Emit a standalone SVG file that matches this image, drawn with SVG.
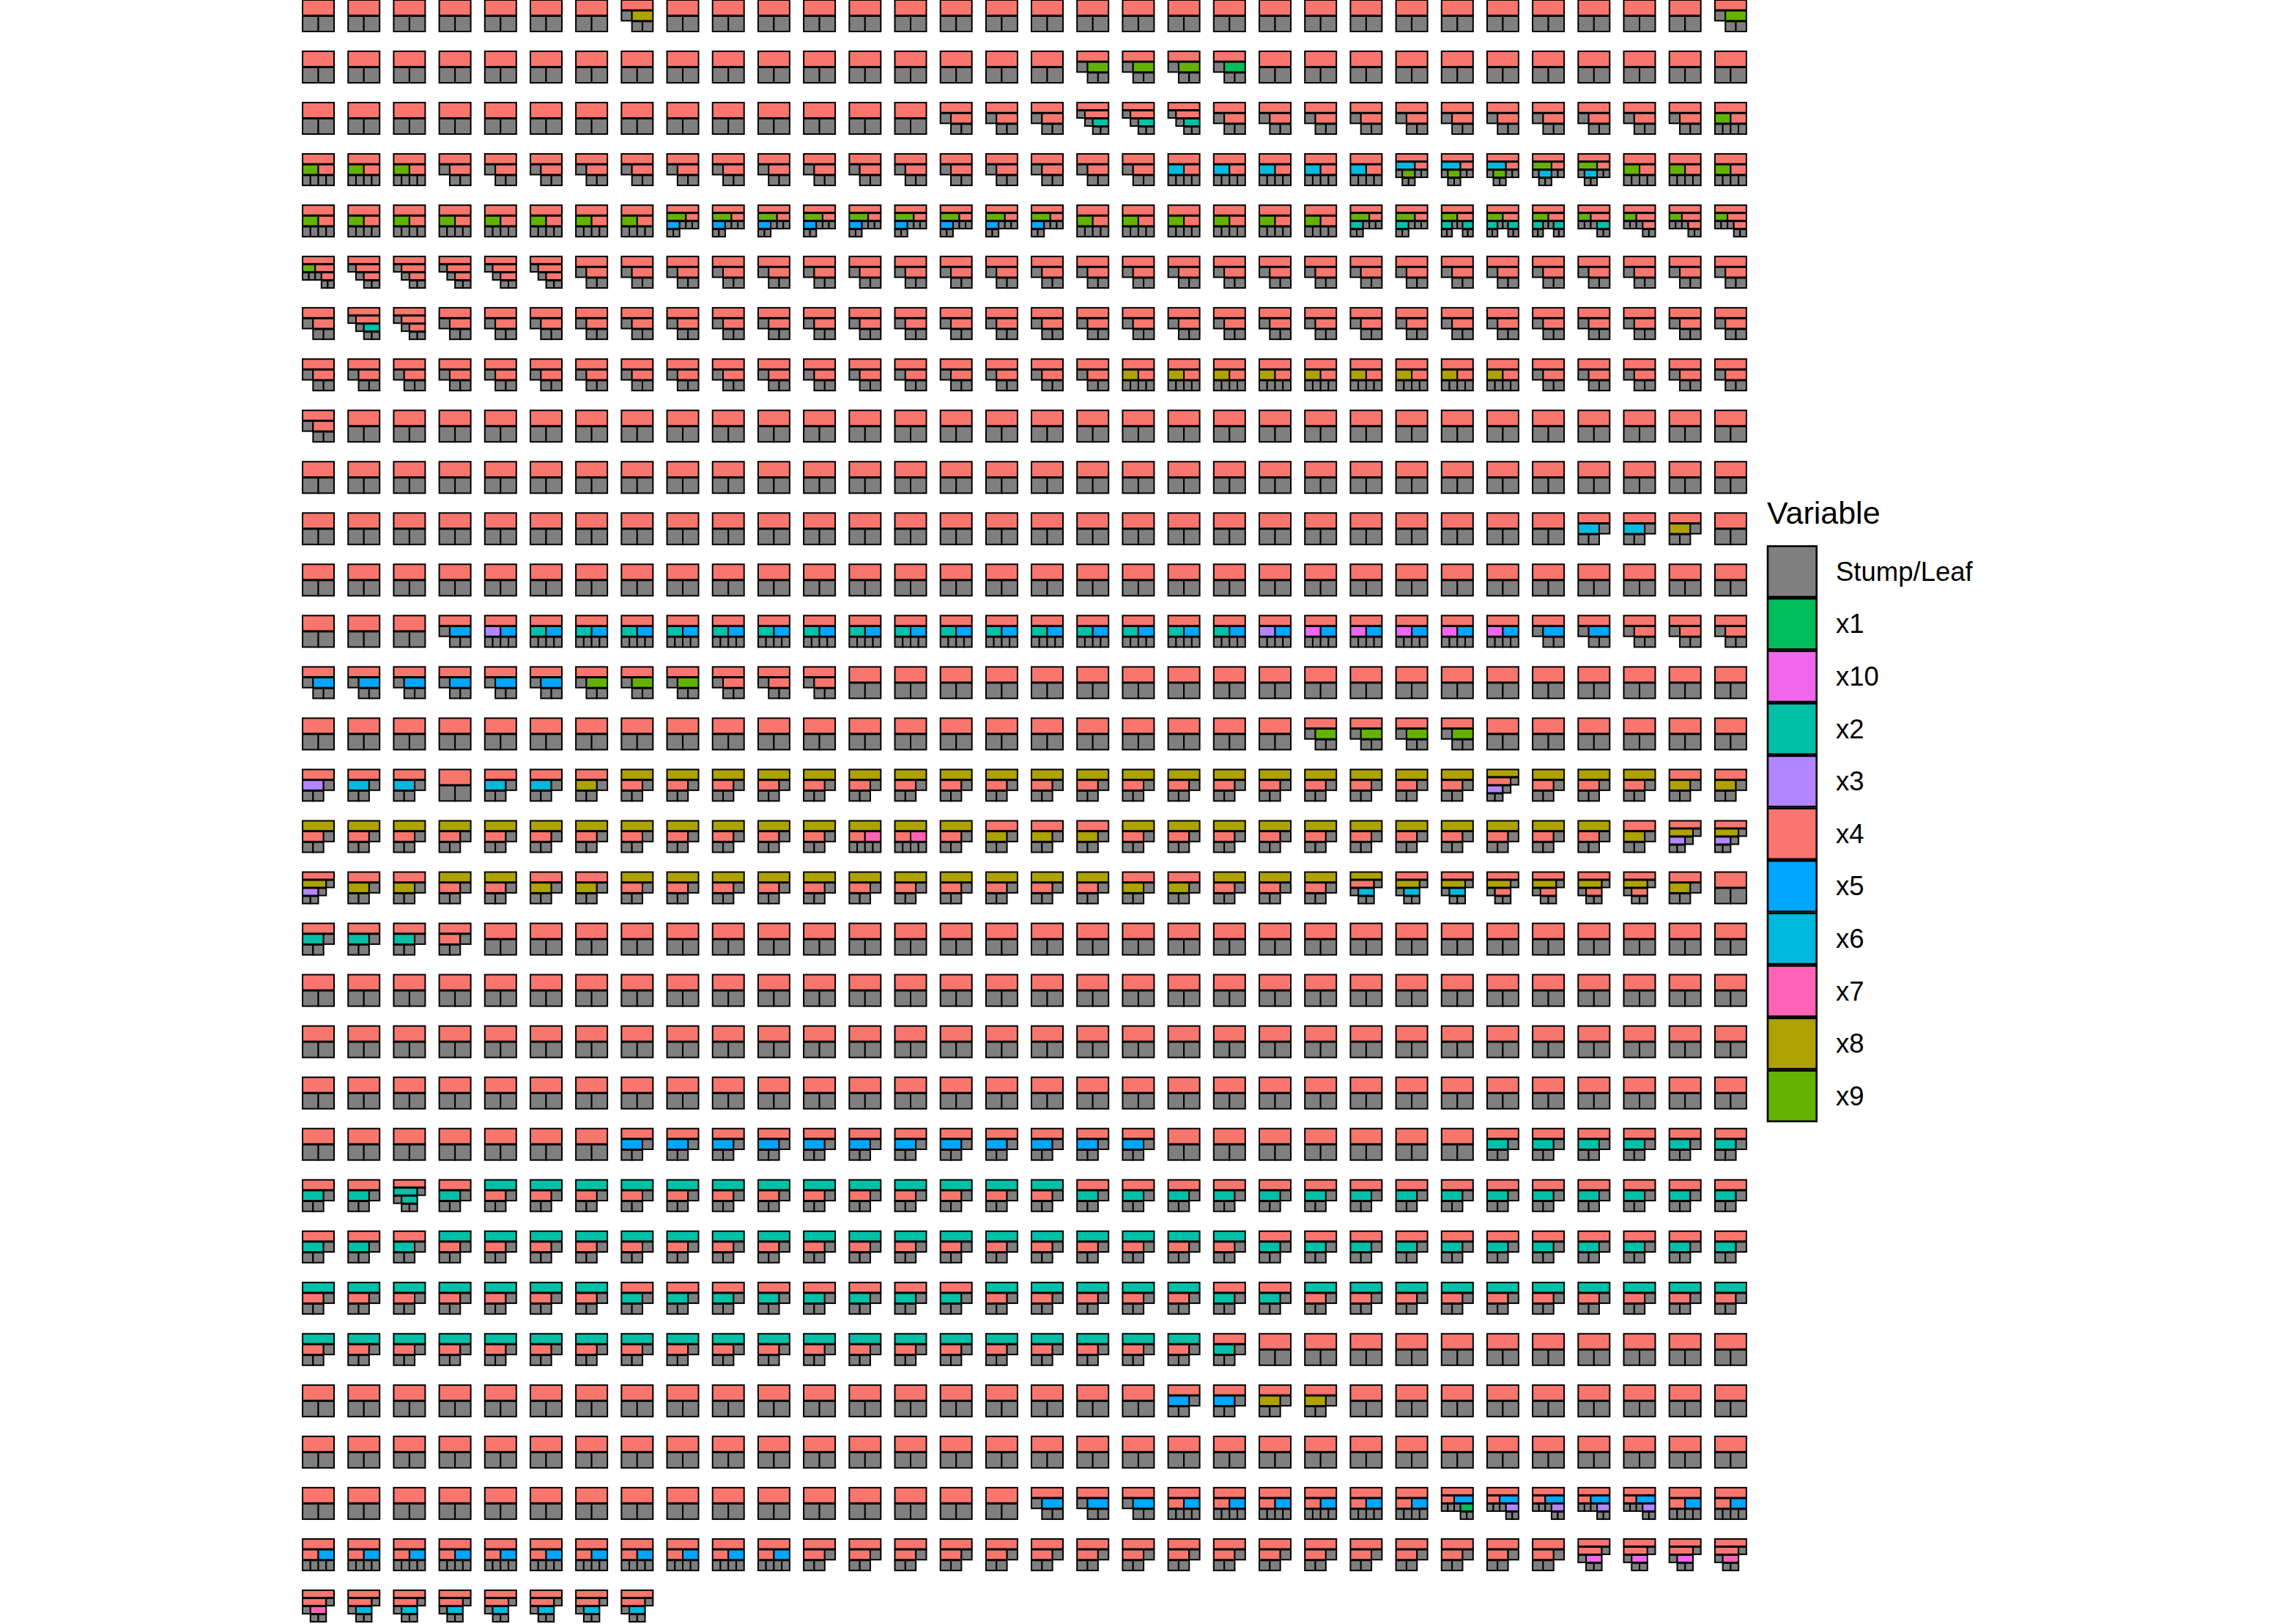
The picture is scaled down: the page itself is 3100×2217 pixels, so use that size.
<svg xmlns="http://www.w3.org/2000/svg" width="3100" height="2217" viewBox="0 0 3100 2217">
<style>
.g{fill:#7F7F7F}
.A{fill:var(--a,#F8766D)}
.B{fill:var(--b,#F8766D)}
.C{fill:var(--c,#F8766D)}
.E{fill:var(--d,#F8766D)}
.F{fill:var(--e,#F8766D)}
.a8{--a:#AEA200}.a2{--a:#00C1A7}
.b1{--b:#00BD5C}.b2{--b:#00C1A7}.b3{--b:#B385FF}.b5{--b:#00A6FF}.b6{--b:#00BADE}.b8{--b:#AEA200}.b9{--b:#64B200}.b10{--b:#EF67EB}
.c2{--c:#00C1A7}.c3{--c:#B385FF}.c5{--c:#00A6FF}.c6{--c:#00BADE}.c7{--c:#FF63B6}.c10{--c:#EF67EB}
.d1{--d:#00BD5C}.d2{--d:#00C1A7}.d3{--d:#B385FF}.d5{--d:#00A6FF}.d6{--d:#00BADE}.d9{--d:#64B200}
.e2{--e:#00C1A7}
.key{stroke:#000;stroke-width:2.6}
.lt{font-family:"Liberation Sans",Arial,Helvetica,sans-serif;font-size:43px;fill:#000}
.ll{font-family:"Liberation Sans",Arial,Helvetica,sans-serif;font-size:36.5px;fill:#000}
</style>
<defs>
<g id="D" stroke="#000" stroke-width="2">
<rect class="A" x="1" y="1" width="43" height="21"/>
<rect class="g" x="1" y="23" width="21.5" height="21"/>
<rect class="g" x="22.5" y="23" width="21.5" height="21"/>
</g>
<g id="R" stroke="#000" stroke-width="2">
<rect class="A" x="1" y="1" width="43" height="13.67"/>
<rect class="g" x="1" y="15.67" width="14.33" height="13.67"/>
<rect class="B" x="15.33" y="15.67" width="28.67" height="13.67"/>
<rect class="g" x="15.33" y="30.33" width="14.33" height="13.67"/>
<rect class="g" x="29.67" y="30.33" width="14.33" height="13.67"/>
</g>
<g id="T" stroke="#000" stroke-width="2">
<rect class="A" x="1" y="1" width="43" height="13.67"/>
<rect class="B" x="1" y="15.67" width="28.67" height="13.67"/>
<rect class="g" x="29.67" y="15.67" width="14.33" height="13.67"/>
<rect class="g" x="1" y="30.33" width="14.33" height="13.67"/>
<rect class="g" x="15.33" y="30.33" width="14.33" height="13.67"/>
</g>
<g id="F" stroke="#000" stroke-width="2">
<rect class="A" x="1" y="1" width="43" height="13.67"/>
<rect class="B" x="1" y="15.67" width="21.5" height="13.67"/>
<rect class="C" x="22.5" y="15.67" width="21.5" height="13.67"/>
<rect class="g" x="1" y="30.33" width="10.75" height="13.67"/>
<rect class="g" x="11.75" y="30.33" width="10.75" height="13.67"/>
<rect class="g" x="22.5" y="30.33" width="10.75" height="13.67"/>
<rect class="g" x="33.25" y="30.33" width="10.75" height="13.67"/>
</g>
<g id="S" stroke="#000" stroke-width="2">
<rect class="A" x="1" y="1" width="43" height="10"/>
<rect class="g" x="1" y="12" width="10.75" height="10"/>
<rect class="B" x="11.75" y="12" width="32.25" height="10"/>
<rect class="g" x="11.75" y="23" width="10.75" height="10"/>
<rect class="C" x="22.5" y="23" width="21.5" height="10"/>
<rect class="g" x="22.5" y="34" width="10.75" height="10"/>
<rect class="g" x="33.25" y="34" width="10.75" height="10"/>
</g>
<g id="U" stroke="#000" stroke-width="2">
<rect class="A" x="1" y="1" width="43" height="10"/>
<rect class="B" x="1" y="12" width="32.25" height="10"/>
<rect class="g" x="33.25" y="12" width="10.75" height="10"/>
<rect class="C" x="1" y="23" width="21.5" height="10"/>
<rect class="g" x="22.5" y="23" width="10.75" height="10"/>
<rect class="g" x="1" y="34" width="10.75" height="10"/>
<rect class="g" x="11.75" y="34" width="10.75" height="10"/>
</g>
<g id="Z" stroke="#000" stroke-width="2">
<rect class="A" x="1" y="1" width="43" height="10"/>
<rect class="B" x="1" y="12" width="32.25" height="10"/>
<rect class="g" x="33.25" y="12" width="10.75" height="10"/>
<rect class="g" x="1" y="23" width="10.75" height="10"/>
<rect class="C" x="11.75" y="23" width="21.5" height="10"/>
<rect class="g" x="11.75" y="34" width="10.75" height="10"/>
<rect class="g" x="22.5" y="34" width="10.75" height="10"/>
</g>
<g id="P" stroke="#000" stroke-width="2">
<rect class="A" x="1" y="1" width="43" height="10"/>
<rect class="B" x="1" y="12" width="25.8" height="10"/>
<rect class="C" x="26.8" y="12" width="17.2" height="10"/>
<rect class="E" x="1" y="23" width="17.2" height="10"/>
<rect class="g" x="18.2" y="23" width="8.6" height="10"/>
<rect class="g" x="26.8" y="23" width="8.6" height="10"/>
<rect class="g" x="35.4" y="23" width="8.6" height="10"/>
<rect class="g" x="1" y="34" width="8.6" height="10"/>
<rect class="g" x="9.6" y="34" width="8.6" height="10"/>
</g>
<g id="Q" stroke="#000" stroke-width="2">
<rect class="A" x="1" y="1" width="43" height="10"/>
<rect class="B" x="1" y="12" width="17.2" height="10"/>
<rect class="C" x="18.2" y="12" width="25.8" height="10"/>
<rect class="g" x="1" y="23" width="8.6" height="10"/>
<rect class="g" x="9.6" y="23" width="8.6" height="10"/>
<rect class="g" x="18.2" y="23" width="8.6" height="10"/>
<rect class="E" x="26.8" y="23" width="17.2" height="10"/>
<rect class="g" x="26.8" y="34" width="8.6" height="10"/>
<rect class="g" x="35.4" y="34" width="8.6" height="10"/>
</g>
<g id="K" stroke="#000" stroke-width="2">
<rect class="A" x="1" y="1" width="43" height="10"/>
<rect class="B" x="1" y="12" width="25.8" height="10"/>
<rect class="C" x="26.8" y="12" width="17.2" height="10"/>
<rect class="g" x="1" y="23" width="8.6" height="10"/>
<rect class="E" x="9.6" y="23" width="17.2" height="10"/>
<rect class="g" x="26.8" y="23" width="8.6" height="10"/>
<rect class="g" x="35.4" y="23" width="8.6" height="10"/>
<rect class="g" x="9.6" y="34" width="8.6" height="10"/>
<rect class="g" x="18.2" y="34" width="8.6" height="10"/>
</g>
<g id="H" stroke="#000" stroke-width="2">
<rect class="A" x="1" y="1" width="43" height="10"/>
<rect class="B" x="1" y="12" width="21.5" height="10"/>
<rect class="C" x="22.5" y="12" width="21.5" height="10"/>
<rect class="E" x="1" y="23" width="14.33" height="10"/>
<rect class="g" x="15.33" y="23" width="7.17" height="10"/>
<rect class="g" x="22.5" y="23" width="7.17" height="10"/>
<rect class="F" x="29.67" y="23" width="14.33" height="10"/>
<rect class="g" x="1" y="34" width="7.17" height="10"/>
<rect class="g" x="8.17" y="34" width="7.17" height="10"/>
<rect class="g" x="29.67" y="34" width="7.17" height="10"/>
<rect class="g" x="36.83" y="34" width="7.17" height="10"/>
</g>
<g id="rowD">
<use href="#D" x="412"/><use href="#D" x="474.2"/><use href="#D" x="536.4"/><use href="#D" x="598.6"/><use href="#D" x="660.8"/><use href="#D" x="723"/><use href="#D" x="785.1"/><use href="#D" x="847.3"/><use href="#D" x="909.5"/><use href="#D" x="971.7"/><use href="#D" x="1033.9"/><use href="#D" x="1096.1"/><use href="#D" x="1158.3"/><use href="#D" x="1220.5"/><use href="#D" x="1282.7"/><use href="#D" x="1344.9"/><use href="#D" x="1407"/><use href="#D" x="1469.2"/><use href="#D" x="1531.4"/><use href="#D" x="1593.6"/><use href="#D" x="1655.8"/><use href="#D" x="1718"/><use href="#D" x="1780.2"/><use href="#D" x="1842.4"/><use href="#D" x="1904.6"/><use href="#D" x="1966.8"/><use href="#D" x="2028.9"/><use href="#D" x="2091.1"/><use href="#D" x="2153.3"/><use href="#D" x="2215.5"/><use href="#D" x="2277.7"/><use href="#D" x="2339.9"/>
</g>
</defs>
<rect width="3100" height="2217" fill="#fff"/>
<g id="trees">
<g id="row0" transform="translate(0,-1)">
<use href="#D" x="412"/><use href="#D" x="474.2"/><use href="#D" x="536.4"/><use href="#D" x="598.6"/><use href="#D" x="660.8"/><use href="#D" x="723"/><use href="#D" x="785.1"/><use href="#R" class="b8" x="847.3"/><use href="#D" x="909.5"/><use href="#D" x="971.7"/><use href="#D" x="1033.9"/><use href="#D" x="1096.1"/><use href="#D" x="1158.3"/><use href="#D" x="1220.5"/><use href="#D" x="1282.7"/><use href="#D" x="1344.9"/><use href="#D" x="1407"/><use href="#D" x="1469.2"/><use href="#D" x="1531.4"/><use href="#D" x="1593.6"/><use href="#D" x="1655.8"/><use href="#D" x="1718"/><use href="#D" x="1780.2"/><use href="#D" x="1842.4"/><use href="#D" x="1904.6"/><use href="#D" x="1966.8"/><use href="#D" x="2028.9"/><use href="#D" x="2091.1"/><use href="#D" x="2153.3"/><use href="#D" x="2215.5"/><use href="#D" x="2277.7"/><use href="#R" class="b9" x="2339.9"/>
</g>
<g id="row1" transform="translate(0,69.03)">
<use href="#D" x="412"/><use href="#D" x="474.2"/><use href="#D" x="536.4"/><use href="#D" x="598.6"/><use href="#D" x="660.8"/><use href="#D" x="723"/><use href="#D" x="785.1"/><use href="#D" x="847.3"/><use href="#D" x="909.5"/><use href="#D" x="971.7"/><use href="#D" x="1033.9"/><use href="#D" x="1096.1"/><use href="#D" x="1158.3"/><use href="#D" x="1220.5"/><use href="#D" x="1282.7"/><use href="#D" x="1344.9"/><use href="#D" x="1407"/><use href="#R" class="b9" x="1469.2"/><use href="#R" class="b9" x="1531.4"/><use href="#R" class="b9" x="1593.6"/><use href="#R" class="b1" x="1655.8"/><use href="#D" x="1718"/><use href="#D" x="1780.2"/><use href="#D" x="1842.4"/><use href="#D" x="1904.6"/><use href="#D" x="1966.8"/><use href="#D" x="2028.9"/><use href="#D" x="2091.1"/><use href="#D" x="2153.3"/><use href="#D" x="2215.5"/><use href="#D" x="2277.7"/><use href="#D" x="2339.9"/>
</g>
<g id="row2" transform="translate(0,139.06)">
<use href="#D" x="412"/><use href="#D" x="474.2"/><use href="#D" x="536.4"/><use href="#D" x="598.6"/><use href="#D" x="660.8"/><use href="#D" x="723"/><use href="#D" x="785.1"/><use href="#D" x="847.3"/><use href="#D" x="909.5"/><use href="#D" x="971.7"/><use href="#D" x="1033.9"/><use href="#D" x="1096.1"/><use href="#D" x="1158.3"/><use href="#D" x="1220.5"/><use href="#R" x="1282.7"/><use href="#R" x="1344.9"/><use href="#R" x="1407"/><use href="#S" class="c2" x="1469.2"/><use href="#S" class="c2" x="1531.4"/><use href="#S" class="c2" x="1593.6"/><use href="#R" x="1655.8"/><use href="#R" x="1718"/><use href="#R" x="1780.2"/><use href="#R" x="1842.4"/><use href="#R" x="1904.6"/><use href="#R" x="1966.8"/><use href="#R" x="2028.9"/><use href="#R" x="2091.1"/><use href="#R" x="2153.3"/><use href="#R" x="2215.5"/><use href="#R" x="2277.7"/><use href="#F" class="b9" x="2339.9"/>
</g>
<g id="row3" transform="translate(0,209.09)">
<use href="#F" class="b9" x="412"/><use href="#F" class="b9" x="474.2"/><use href="#F" class="b9" x="536.4"/><use href="#R" x="598.6"/><use href="#R" x="660.8"/><use href="#R" x="723"/><use href="#R" x="785.1"/><use href="#R" x="847.3"/><use href="#R" x="909.5"/><use href="#R" x="971.7"/><use href="#R" x="1033.9"/><use href="#R" x="1096.1"/><use href="#R" x="1158.3"/><use href="#R" x="1220.5"/><use href="#R" x="1282.7"/><use href="#R" x="1344.9"/><use href="#R" x="1407"/><use href="#R" x="1469.2"/><use href="#R" x="1531.4"/><use href="#F" class="b6" x="1593.6"/><use href="#F" class="b6" x="1655.8"/><use href="#F" class="b6" x="1718"/><use href="#F" class="b6" x="1780.2"/><use href="#F" class="b6" x="1842.4"/><use href="#K" class="b6 d9" x="1904.6"/><use href="#K" class="b6 d9" x="1966.8"/><use href="#K" class="b6 d9" x="2028.9"/><use href="#K" class="b9 d6" x="2091.1"/><use href="#K" class="b9 d6" x="2153.3"/><use href="#F" class="b9" x="2215.5"/><use href="#F" class="b9" x="2277.7"/><use href="#F" class="b9" x="2339.9"/>
</g>
<g id="row4" transform="translate(0,279.12)">
<use href="#F" class="b9" x="412"/><use href="#F" class="b9" x="474.2"/><use href="#F" class="b9" x="536.4"/><use href="#F" class="b9" x="598.6"/><use href="#F" class="b9" x="660.8"/><use href="#F" class="b9" x="723"/><use href="#F" class="b9" x="785.1"/><use href="#F" class="b9" x="847.3"/><use href="#P" class="b9 d5" x="909.5"/><use href="#P" class="b9 d5" x="971.7"/><use href="#P" class="b9 d5" x="1033.9"/><use href="#P" class="b9 d5" x="1096.1"/><use href="#P" class="b9 d5" x="1158.3"/><use href="#P" class="b9 d5" x="1220.5"/><use href="#P" class="b9 d5" x="1282.7"/><use href="#P" class="b9 d5" x="1344.9"/><use href="#P" class="b9 d5" x="1407"/><use href="#F" class="b9" x="1469.2"/><use href="#F" class="b9" x="1531.4"/><use href="#F" class="b9" x="1593.6"/><use href="#F" class="b9" x="1655.8"/><use href="#F" class="b9" x="1718"/><use href="#F" class="b9" x="1780.2"/><use href="#P" class="b9 d2" x="1842.4"/><use href="#P" class="b9 d2" x="1904.6"/><use href="#H" class="b9 d2 e2" x="1966.8"/><use href="#H" class="b9 d2 e2" x="2028.9"/><use href="#H" class="b9 d2 e2" x="2091.1"/><use href="#Q" class="b9 d2" x="2153.3"/><use href="#Q" class="b9" x="2215.5"/><use href="#Q" class="b9" x="2277.7"/><use href="#Q" class="b9" x="2339.9"/>
</g>
<g id="row5" transform="translate(0,349.15)">
<use href="#Q" class="b9" x="412"/><use href="#S" x="474.2"/><use href="#S" x="536.4"/><use href="#S" x="598.6"/><use href="#S" x="660.8"/><use href="#S" x="723"/><use href="#R" x="785.1"/><use href="#R" x="847.3"/><use href="#R" x="909.5"/><use href="#R" x="971.7"/><use href="#R" x="1033.9"/><use href="#R" x="1096.1"/><use href="#R" x="1158.3"/><use href="#R" x="1220.5"/><use href="#R" x="1282.7"/><use href="#R" x="1344.9"/><use href="#R" x="1407"/><use href="#R" x="1469.2"/><use href="#R" x="1531.4"/><use href="#R" x="1593.6"/><use href="#R" x="1655.8"/><use href="#R" x="1718"/><use href="#R" x="1780.2"/><use href="#R" x="1842.4"/><use href="#R" x="1904.6"/><use href="#R" x="1966.8"/><use href="#R" x="2028.9"/><use href="#R" x="2091.1"/><use href="#R" x="2153.3"/><use href="#R" x="2215.5"/><use href="#R" x="2277.7"/><use href="#R" x="2339.9"/>
</g>
<g id="row6" transform="translate(0,419.18)">
<use href="#R" x="412"/><use href="#S" class="c2" x="474.2"/><use href="#S" x="536.4"/><use href="#R" x="598.6"/><use href="#R" x="660.8"/><use href="#R" x="723"/><use href="#R" x="785.1"/><use href="#R" x="847.3"/><use href="#R" x="909.5"/><use href="#R" x="971.7"/><use href="#R" x="1033.9"/><use href="#R" x="1096.1"/><use href="#R" x="1158.3"/><use href="#R" x="1220.5"/><use href="#R" x="1282.7"/><use href="#R" x="1344.9"/><use href="#R" x="1407"/><use href="#R" x="1469.2"/><use href="#R" x="1531.4"/><use href="#R" x="1593.6"/><use href="#R" x="1655.8"/><use href="#R" x="1718"/><use href="#R" x="1780.2"/><use href="#R" x="1842.4"/><use href="#R" x="1904.6"/><use href="#R" x="1966.8"/><use href="#R" x="2028.9"/><use href="#R" x="2091.1"/><use href="#R" x="2153.3"/><use href="#R" x="2215.5"/><use href="#R" x="2277.7"/><use href="#R" x="2339.9"/>
</g>
<g id="row7" transform="translate(0,489.21)">
<use href="#R" x="412"/><use href="#R" x="474.2"/><use href="#R" x="536.4"/><use href="#R" x="598.6"/><use href="#R" x="660.8"/><use href="#R" x="723"/><use href="#R" x="785.1"/><use href="#R" x="847.3"/><use href="#R" x="909.5"/><use href="#R" x="971.7"/><use href="#R" x="1033.9"/><use href="#R" x="1096.1"/><use href="#R" x="1158.3"/><use href="#R" x="1220.5"/><use href="#R" x="1282.7"/><use href="#R" x="1344.9"/><use href="#R" x="1407"/><use href="#R" x="1469.2"/><use href="#F" class="b8" x="1531.4"/><use href="#F" class="b8" x="1593.6"/><use href="#F" class="b8" x="1655.8"/><use href="#F" class="b8" x="1718"/><use href="#F" class="b8" x="1780.2"/><use href="#F" class="b8" x="1842.4"/><use href="#F" class="b8" x="1904.6"/><use href="#F" class="b8" x="1966.8"/><use href="#F" class="b8" x="2028.9"/><use href="#R" x="2091.1"/><use href="#R" x="2153.3"/><use href="#R" x="2215.5"/><use href="#R" x="2277.7"/><use href="#R" x="2339.9"/>
</g>
<g id="row8" transform="translate(0,559.24)">
<use href="#R" x="412"/><use href="#D" x="474.2"/><use href="#D" x="536.4"/><use href="#D" x="598.6"/><use href="#D" x="660.8"/><use href="#D" x="723"/><use href="#D" x="785.1"/><use href="#D" x="847.3"/><use href="#D" x="909.5"/><use href="#D" x="971.7"/><use href="#D" x="1033.9"/><use href="#D" x="1096.1"/><use href="#D" x="1158.3"/><use href="#D" x="1220.5"/><use href="#D" x="1282.7"/><use href="#D" x="1344.9"/><use href="#D" x="1407"/><use href="#D" x="1469.2"/><use href="#D" x="1531.4"/><use href="#D" x="1593.6"/><use href="#D" x="1655.8"/><use href="#D" x="1718"/><use href="#D" x="1780.2"/><use href="#D" x="1842.4"/><use href="#D" x="1904.6"/><use href="#D" x="1966.8"/><use href="#D" x="2028.9"/><use href="#D" x="2091.1"/><use href="#D" x="2153.3"/><use href="#D" x="2215.5"/><use href="#D" x="2277.7"/><use href="#D" x="2339.9"/>
</g>
<use id="row9" href="#rowD" y="629.27"/>
<g id="row10" transform="translate(0,699.3)">
<use href="#D" x="412"/><use href="#D" x="474.2"/><use href="#D" x="536.4"/><use href="#D" x="598.6"/><use href="#D" x="660.8"/><use href="#D" x="723"/><use href="#D" x="785.1"/><use href="#D" x="847.3"/><use href="#D" x="909.5"/><use href="#D" x="971.7"/><use href="#D" x="1033.9"/><use href="#D" x="1096.1"/><use href="#D" x="1158.3"/><use href="#D" x="1220.5"/><use href="#D" x="1282.7"/><use href="#D" x="1344.9"/><use href="#D" x="1407"/><use href="#D" x="1469.2"/><use href="#D" x="1531.4"/><use href="#D" x="1593.6"/><use href="#D" x="1655.8"/><use href="#D" x="1718"/><use href="#D" x="1780.2"/><use href="#D" x="1842.4"/><use href="#D" x="1904.6"/><use href="#D" x="1966.8"/><use href="#D" x="2028.9"/><use href="#D" x="2091.1"/><use href="#T" class="b6" x="2153.3"/><use href="#T" class="b6" x="2215.5"/><use href="#T" class="b8" x="2277.7"/><use href="#D" x="2339.9"/>
</g>
<use id="row11" href="#rowD" y="769.33"/>
<g id="row12" transform="translate(0,839.36)">
<use href="#D" x="412"/><use href="#D" x="474.2"/><use href="#D" x="536.4"/><use href="#R" class="b5" x="598.6"/><use href="#F" class="b3 c5" x="660.8"/><use href="#F" class="b2 c5" x="723"/><use href="#F" class="b2 c5" x="785.1"/><use href="#F" class="b2 c5" x="847.3"/><use href="#F" class="b2 c5" x="909.5"/><use href="#F" class="b2 c5" x="971.7"/><use href="#F" class="b2 c5" x="1033.9"/><use href="#F" class="b2 c5" x="1096.1"/><use href="#F" class="b2 c5" x="1158.3"/><use href="#F" class="b2 c5" x="1220.5"/><use href="#F" class="b2 c5" x="1282.7"/><use href="#F" class="b2 c5" x="1344.9"/><use href="#F" class="b2 c5" x="1407"/><use href="#F" class="b2 c5" x="1469.2"/><use href="#F" class="b2 c5" x="1531.4"/><use href="#F" class="b2 c5" x="1593.6"/><use href="#F" class="b2 c5" x="1655.8"/><use href="#F" class="b3 c5" x="1718"/><use href="#F" class="b10 c5" x="1780.2"/><use href="#F" class="b10 c5" x="1842.4"/><use href="#F" class="b10 c5" x="1904.6"/><use href="#F" class="b10 c5" x="1966.8"/><use href="#F" class="b10 c5" x="2028.9"/><use href="#R" class="b5" x="2091.1"/><use href="#R" class="b5" x="2153.3"/><use href="#R" x="2215.5"/><use href="#R" x="2277.7"/><use href="#R" x="2339.9"/>
</g>
<g id="row13" transform="translate(0,909.39)">
<use href="#R" class="b5" x="412"/><use href="#R" class="b5" x="474.2"/><use href="#R" class="b5" x="536.4"/><use href="#R" class="b5" x="598.6"/><use href="#R" class="b5" x="660.8"/><use href="#R" class="b5" x="723"/><use href="#R" class="b9" x="785.1"/><use href="#R" class="b9" x="847.3"/><use href="#R" class="b9" x="909.5"/><use href="#R" x="971.7"/><use href="#R" x="1033.9"/><use href="#R" x="1096.1"/><use href="#D" x="1158.3"/><use href="#D" x="1220.5"/><use href="#D" x="1282.7"/><use href="#D" x="1344.9"/><use href="#D" x="1407"/><use href="#D" x="1469.2"/><use href="#D" x="1531.4"/><use href="#D" x="1593.6"/><use href="#D" x="1655.8"/><use href="#D" x="1718"/><use href="#D" x="1780.2"/><use href="#D" x="1842.4"/><use href="#D" x="1904.6"/><use href="#D" x="1966.8"/><use href="#D" x="2028.9"/><use href="#D" x="2091.1"/><use href="#D" x="2153.3"/><use href="#D" x="2215.5"/><use href="#D" x="2277.7"/><use href="#D" x="2339.9"/>
</g>
<g id="row14" transform="translate(0,979.42)">
<use href="#D" x="412"/><use href="#D" x="474.2"/><use href="#D" x="536.4"/><use href="#D" x="598.6"/><use href="#D" x="660.8"/><use href="#D" x="723"/><use href="#D" x="785.1"/><use href="#D" x="847.3"/><use href="#D" x="909.5"/><use href="#D" x="971.7"/><use href="#D" x="1033.9"/><use href="#D" x="1096.1"/><use href="#D" x="1158.3"/><use href="#D" x="1220.5"/><use href="#D" x="1282.7"/><use href="#D" x="1344.9"/><use href="#D" x="1407"/><use href="#D" x="1469.2"/><use href="#D" x="1531.4"/><use href="#D" x="1593.6"/><use href="#D" x="1655.8"/><use href="#D" x="1718"/><use href="#R" class="b9" x="1780.2"/><use href="#R" class="b9" x="1842.4"/><use href="#R" class="b9" x="1904.6"/><use href="#R" class="b9" x="1966.8"/><use href="#D" x="2028.9"/><use href="#D" x="2091.1"/><use href="#D" x="2153.3"/><use href="#D" x="2215.5"/><use href="#D" x="2277.7"/><use href="#D" x="2339.9"/>
</g>
<g id="row15" transform="translate(0,1049.45)">
<use href="#T" class="b3" x="412"/><use href="#T" class="b6" x="474.2"/><use href="#T" class="b6" x="536.4"/><use href="#D" x="598.6"/><use href="#T" class="b6" x="660.8"/><use href="#T" class="b6" x="723"/><use href="#T" class="b8" x="785.1"/><use href="#T" class="a8" x="847.3"/><use href="#T" class="a8" x="909.5"/><use href="#T" class="a8" x="971.7"/><use href="#T" class="a8" x="1033.9"/><use href="#T" class="a8" x="1096.1"/><use href="#T" class="a8" x="1158.3"/><use href="#T" class="a8" x="1220.5"/><use href="#T" class="a8" x="1282.7"/><use href="#T" class="a8" x="1344.9"/><use href="#T" class="a8" x="1407"/><use href="#T" class="a8" x="1469.2"/><use href="#T" class="a8" x="1531.4"/><use href="#T" class="a8" x="1593.6"/><use href="#T" class="a8" x="1655.8"/><use href="#T" class="a8" x="1718"/><use href="#T" class="a8" x="1780.2"/><use href="#T" class="a8" x="1842.4"/><use href="#T" class="a8" x="1904.6"/><use href="#T" class="a8" x="1966.8"/><use href="#U" class="a8 c3" x="2028.9"/><use href="#T" class="a8" x="2091.1"/><use href="#T" class="a8" x="2153.3"/><use href="#T" class="a8" x="2215.5"/><use href="#T" class="b8" x="2277.7"/><use href="#T" class="b8" x="2339.9"/>
</g>
<g id="row16" transform="translate(0,1119.48)">
<use href="#T" class="a8" x="412"/><use href="#T" class="a8" x="474.2"/><use href="#T" class="a8" x="536.4"/><use href="#T" class="a8" x="598.6"/><use href="#T" class="a8" x="660.8"/><use href="#T" class="a8" x="723"/><use href="#T" class="a8" x="785.1"/><use href="#T" class="a8" x="847.3"/><use href="#T" class="a8" x="909.5"/><use href="#T" class="a8" x="971.7"/><use href="#T" class="a8" x="1033.9"/><use href="#T" class="a8" x="1096.1"/><use href="#F" class="a8 c7" x="1158.3"/><use href="#F" class="a8 c7" x="1220.5"/><use href="#T" class="a8" x="1282.7"/><use href="#T" class="b8" x="1344.9"/><use href="#T" class="b8" x="1407"/><use href="#T" class="b8" x="1469.2"/><use href="#T" class="a8" x="1531.4"/><use href="#T" class="a8" x="1593.6"/><use href="#T" class="a8" x="1655.8"/><use href="#T" class="a8" x="1718"/><use href="#T" class="a8" x="1780.2"/><use href="#T" class="a8" x="1842.4"/><use href="#T" class="a8" x="1904.6"/><use href="#T" class="a8" x="1966.8"/><use href="#T" class="a8" x="2028.9"/><use href="#T" class="a8" x="2091.1"/><use href="#T" class="a8" x="2153.3"/><use href="#T" class="b8" x="2215.5"/><use href="#U" class="b8 c3" x="2277.7"/><use href="#U" class="b8 c3" x="2339.9"/>
</g>
<g id="row17" transform="translate(0,1189.51)">
<use href="#U" class="b8 c3" x="412"/><use href="#T" class="b8" x="474.2"/><use href="#T" class="b8" x="536.4"/><use href="#T" class="a8" x="598.6"/><use href="#T" class="a8" x="660.8"/><use href="#T" class="b8" x="723"/><use href="#T" class="b8" x="785.1"/><use href="#T" class="a8" x="847.3"/><use href="#T" class="a8" x="909.5"/><use href="#T" class="a8" x="971.7"/><use href="#T" class="a8" x="1033.9"/><use href="#T" class="a8" x="1096.1"/><use href="#T" class="a8" x="1158.3"/><use href="#T" class="a8" x="1220.5"/><use href="#T" class="a8" x="1282.7"/><use href="#T" class="a8" x="1344.9"/><use href="#T" class="a8" x="1407"/><use href="#T" class="a8" x="1469.2"/><use href="#T" class="b8" x="1531.4"/><use href="#T" class="b8" x="1593.6"/><use href="#T" class="a8" x="1655.8"/><use href="#T" class="a8" x="1718"/><use href="#T" class="a8" x="1780.2"/><use href="#Z" class="a8 c6" x="1842.4"/><use href="#Z" class="b8 c6" x="1904.6"/><use href="#Z" class="b8 c6" x="1966.8"/><use href="#Z" class="b8" x="2028.9"/><use href="#Z" class="b8" x="2091.1"/><use href="#Z" class="b8" x="2153.3"/><use href="#Z" class="b8" x="2215.5"/><use href="#T" class="b8" x="2277.7"/><use href="#D" x="2339.9"/>
</g>
<g id="row18" transform="translate(0,1259.54)">
<use href="#T" class="b2" x="412"/><use href="#T" class="b2" x="474.2"/><use href="#T" class="b2" x="536.4"/><use href="#T" x="598.6"/><use href="#D" x="660.8"/><use href="#D" x="723"/><use href="#D" x="785.1"/><use href="#D" x="847.3"/><use href="#D" x="909.5"/><use href="#D" x="971.7"/><use href="#D" x="1033.9"/><use href="#D" x="1096.1"/><use href="#D" x="1158.3"/><use href="#D" x="1220.5"/><use href="#D" x="1282.7"/><use href="#D" x="1344.9"/><use href="#D" x="1407"/><use href="#D" x="1469.2"/><use href="#D" x="1531.4"/><use href="#D" x="1593.6"/><use href="#D" x="1655.8"/><use href="#D" x="1718"/><use href="#D" x="1780.2"/><use href="#D" x="1842.4"/><use href="#D" x="1904.6"/><use href="#D" x="1966.8"/><use href="#D" x="2028.9"/><use href="#D" x="2091.1"/><use href="#D" x="2153.3"/><use href="#D" x="2215.5"/><use href="#D" x="2277.7"/><use href="#D" x="2339.9"/>
</g>
<use id="row19" href="#rowD" y="1329.57"/>
<use id="row20" href="#rowD" y="1399.6"/>
<use id="row21" href="#rowD" y="1469.63"/>
<g id="row22" transform="translate(0,1539.66)">
<use href="#D" x="412"/><use href="#D" x="474.2"/><use href="#D" x="536.4"/><use href="#D" x="598.6"/><use href="#D" x="660.8"/><use href="#D" x="723"/><use href="#D" x="785.1"/><use href="#T" class="b5" x="847.3"/><use href="#T" class="b5" x="909.5"/><use href="#T" class="b5" x="971.7"/><use href="#T" class="b5" x="1033.9"/><use href="#T" class="b5" x="1096.1"/><use href="#T" class="b5" x="1158.3"/><use href="#T" class="b5" x="1220.5"/><use href="#T" class="b5" x="1282.7"/><use href="#T" class="b5" x="1344.9"/><use href="#T" class="b5" x="1407"/><use href="#T" class="b5" x="1469.2"/><use href="#T" class="b5" x="1531.4"/><use href="#D" x="1593.6"/><use href="#D" x="1655.8"/><use href="#D" x="1718"/><use href="#D" x="1780.2"/><use href="#D" x="1842.4"/><use href="#D" x="1904.6"/><use href="#D" x="1966.8"/><use href="#T" class="b2" x="2028.9"/><use href="#T" class="b2" x="2091.1"/><use href="#T" class="b2" x="2153.3"/><use href="#T" class="b2" x="2215.5"/><use href="#T" class="b2" x="2277.7"/><use href="#T" class="b2" x="2339.9"/>
</g>
<g id="row23" transform="translate(0,1609.69)">
<use href="#T" class="b2" x="412"/><use href="#T" class="b2" x="474.2"/><use href="#Z" class="b2 c2" x="536.4"/><use href="#T" class="b2" x="598.6"/><use href="#T" class="a2" x="660.8"/><use href="#T" class="a2" x="723"/><use href="#T" class="a2" x="785.1"/><use href="#T" class="a2" x="847.3"/><use href="#T" class="a2" x="909.5"/><use href="#T" class="a2" x="971.7"/><use href="#T" class="a2" x="1033.9"/><use href="#T" class="a2" x="1096.1"/><use href="#T" class="a2" x="1158.3"/><use href="#T" class="a2" x="1220.5"/><use href="#T" class="a2" x="1282.7"/><use href="#T" class="a2" x="1344.9"/><use href="#T" class="a2" x="1407"/><use href="#T" class="b2" x="1469.2"/><use href="#T" class="b2" x="1531.4"/><use href="#T" class="b2" x="1593.6"/><use href="#T" class="b2" x="1655.8"/><use href="#T" class="b2" x="1718"/><use href="#T" class="b2" x="1780.2"/><use href="#T" class="b2" x="1842.4"/><use href="#T" class="b2" x="1904.6"/><use href="#T" class="b2" x="1966.8"/><use href="#T" class="b2" x="2028.9"/><use href="#T" class="b2" x="2091.1"/><use href="#T" class="b2" x="2153.3"/><use href="#T" class="b2" x="2215.5"/><use href="#T" class="b2" x="2277.7"/><use href="#T" class="b2" x="2339.9"/>
</g>
<g id="row24" transform="translate(0,1679.72)">
<use href="#T" class="b2" x="412"/><use href="#T" class="b2" x="474.2"/><use href="#T" class="b2" x="536.4"/><use href="#T" class="a2" x="598.6"/><use href="#T" class="a2" x="660.8"/><use href="#T" class="a2" x="723"/><use href="#T" class="a2" x="785.1"/><use href="#T" class="a2" x="847.3"/><use href="#T" class="a2" x="909.5"/><use href="#T" class="a2" x="971.7"/><use href="#T" class="a2" x="1033.9"/><use href="#T" class="a2" x="1096.1"/><use href="#T" class="a2" x="1158.3"/><use href="#T" class="a2" x="1220.5"/><use href="#T" class="a2" x="1282.7"/><use href="#T" class="a2" x="1344.9"/><use href="#T" class="a2" x="1407"/><use href="#T" class="a2" x="1469.2"/><use href="#T" class="a2" x="1531.4"/><use href="#T" class="a2" x="1593.6"/><use href="#T" class="a2" x="1655.8"/><use href="#T" class="b2" x="1718"/><use href="#T" class="b2" x="1780.2"/><use href="#T" class="b2" x="1842.4"/><use href="#T" class="b2" x="1904.6"/><use href="#T" class="b2" x="1966.8"/><use href="#T" class="b2" x="2028.9"/><use href="#T" class="b2" x="2091.1"/><use href="#T" class="b2" x="2153.3"/><use href="#T" class="b2" x="2215.5"/><use href="#T" class="b2" x="2277.7"/><use href="#T" class="b2" x="2339.9"/>
</g>
<g id="row25" transform="translate(0,1749.75)">
<use href="#T" class="a2" x="412"/><use href="#T" class="a2" x="474.2"/><use href="#T" class="a2" x="536.4"/><use href="#T" class="a2" x="598.6"/><use href="#T" class="a2" x="660.8"/><use href="#T" class="a2" x="723"/><use href="#T" class="a2" x="785.1"/><use href="#T" class="b2" x="847.3"/><use href="#T" class="b2" x="909.5"/><use href="#T" class="b2" x="971.7"/><use href="#T" class="b2" x="1033.9"/><use href="#T" class="b2" x="1096.1"/><use href="#T" class="b2" x="1158.3"/><use href="#T" class="b2" x="1220.5"/><use href="#T" class="b2" x="1282.7"/><use href="#T" class="a2" x="1344.9"/><use href="#T" class="a2" x="1407"/><use href="#T" class="a2" x="1469.2"/><use href="#T" class="a2" x="1531.4"/><use href="#T" class="a2" x="1593.6"/><use href="#T" class="b2" x="1655.8"/><use href="#T" class="b2" x="1718"/><use href="#T" class="a2" x="1780.2"/><use href="#T" class="a2" x="1842.4"/><use href="#T" class="a2" x="1904.6"/><use href="#T" class="a2" x="1966.8"/><use href="#T" class="a2" x="2028.9"/><use href="#T" class="a2" x="2091.1"/><use href="#T" class="a2" x="2153.3"/><use href="#T" class="a2" x="2215.5"/><use href="#T" class="a2" x="2277.7"/><use href="#T" class="a2" x="2339.9"/>
</g>
<g id="row26" transform="translate(0,1819.78)">
<use href="#T" class="a2" x="412"/><use href="#T" class="a2" x="474.2"/><use href="#T" class="a2" x="536.4"/><use href="#T" class="a2" x="598.6"/><use href="#T" class="a2" x="660.8"/><use href="#T" class="a2" x="723"/><use href="#T" class="a2" x="785.1"/><use href="#T" class="a2" x="847.3"/><use href="#T" class="a2" x="909.5"/><use href="#T" class="a2" x="971.7"/><use href="#T" class="a2" x="1033.9"/><use href="#T" class="a2" x="1096.1"/><use href="#T" class="a2" x="1158.3"/><use href="#T" class="a2" x="1220.5"/><use href="#T" class="a2" x="1282.7"/><use href="#T" class="a2" x="1344.9"/><use href="#T" class="a2" x="1407"/><use href="#T" class="a2" x="1469.2"/><use href="#T" class="a2" x="1531.4"/><use href="#T" class="a2" x="1593.6"/><use href="#T" class="b2" x="1655.8"/><use href="#D" x="1718"/><use href="#D" x="1780.2"/><use href="#D" x="1842.4"/><use href="#D" x="1904.6"/><use href="#D" x="1966.8"/><use href="#D" x="2028.9"/><use href="#D" x="2091.1"/><use href="#D" x="2153.3"/><use href="#D" x="2215.5"/><use href="#D" x="2277.7"/><use href="#D" x="2339.9"/>
</g>
<g id="row27" transform="translate(0,1889.81)">
<use href="#D" x="412"/><use href="#D" x="474.2"/><use href="#D" x="536.4"/><use href="#D" x="598.6"/><use href="#D" x="660.8"/><use href="#D" x="723"/><use href="#D" x="785.1"/><use href="#D" x="847.3"/><use href="#D" x="909.5"/><use href="#D" x="971.7"/><use href="#D" x="1033.9"/><use href="#D" x="1096.1"/><use href="#D" x="1158.3"/><use href="#D" x="1220.5"/><use href="#D" x="1282.7"/><use href="#D" x="1344.9"/><use href="#D" x="1407"/><use href="#D" x="1469.2"/><use href="#D" x="1531.4"/><use href="#T" class="b5" x="1593.6"/><use href="#T" class="b5" x="1655.8"/><use href="#T" class="b8" x="1718"/><use href="#T" class="b8" x="1780.2"/><use href="#D" x="1842.4"/><use href="#D" x="1904.6"/><use href="#D" x="1966.8"/><use href="#D" x="2028.9"/><use href="#D" x="2091.1"/><use href="#D" x="2153.3"/><use href="#D" x="2215.5"/><use href="#D" x="2277.7"/><use href="#D" x="2339.9"/>
</g>
<use id="row28" href="#rowD" y="1959.84"/>
<g id="row29" transform="translate(0,2029.87)">
<use href="#D" x="412"/><use href="#D" x="474.2"/><use href="#D" x="536.4"/><use href="#D" x="598.6"/><use href="#D" x="660.8"/><use href="#D" x="723"/><use href="#D" x="785.1"/><use href="#D" x="847.3"/><use href="#D" x="909.5"/><use href="#D" x="971.7"/><use href="#D" x="1033.9"/><use href="#D" x="1096.1"/><use href="#D" x="1158.3"/><use href="#D" x="1220.5"/><use href="#D" x="1282.7"/><use href="#D" x="1344.9"/><use href="#R" class="b5" x="1407"/><use href="#R" class="b5" x="1469.2"/><use href="#R" class="b5" x="1531.4"/><use href="#F" class="c5" x="1593.6"/><use href="#F" class="c5" x="1655.8"/><use href="#F" class="c5" x="1718"/><use href="#F" class="c5" x="1780.2"/><use href="#F" class="c5" x="1842.4"/><use href="#F" class="c5" x="1904.6"/><use href="#Q" class="c5 d1" x="1966.8"/><use href="#Q" class="c5 d3" x="2028.9"/><use href="#Q" class="c5 d3" x="2091.1"/><use href="#Q" class="c5 d3" x="2153.3"/><use href="#Q" class="c5 d3" x="2215.5"/><use href="#F" class="c5" x="2277.7"/><use href="#F" class="c5" x="2339.9"/>
</g>
<g id="row30" transform="translate(0,2099.9)">
<use href="#F" class="c5" x="412"/><use href="#F" class="c5" x="474.2"/><use href="#F" class="c5" x="536.4"/><use href="#F" class="c5" x="598.6"/><use href="#F" class="c5" x="660.8"/><use href="#F" class="c5" x="723"/><use href="#F" class="c5" x="785.1"/><use href="#F" class="c5" x="847.3"/><use href="#F" class="c5" x="909.5"/><use href="#F" class="c5" x="971.7"/><use href="#F" class="c5" x="1033.9"/><use href="#T" x="1096.1"/><use href="#T" x="1158.3"/><use href="#T" x="1220.5"/><use href="#T" x="1282.7"/><use href="#T" x="1344.9"/><use href="#T" x="1407"/><use href="#T" x="1469.2"/><use href="#T" x="1531.4"/><use href="#T" x="1593.6"/><use href="#T" x="1655.8"/><use href="#T" x="1718"/><use href="#T" x="1780.2"/><use href="#T" x="1842.4"/><use href="#T" x="1904.6"/><use href="#T" x="1966.8"/><use href="#T" x="2028.9"/><use href="#T" x="2091.1"/><use href="#Z" class="c10" x="2153.3"/><use href="#Z" class="c10" x="2215.5"/><use href="#Z" class="c10" x="2277.7"/><use href="#Z" class="c7" x="2339.9"/>
</g>
<g id="row31" transform="translate(0,2169.93)">
<use href="#Z" class="c7" x="412"/><use href="#Z" class="c6" x="474.2"/><use href="#Z" class="c6" x="536.4"/><use href="#Z" class="c6" x="598.6"/><use href="#Z" class="c6" x="660.8"/><use href="#Z" class="c6" x="723"/><use href="#Z" class="c6" x="785.1"/><use href="#Z" class="c6" x="847.3"/>
</g>
</g>
<g id="legend">
<text class="lt" x="2412" y="715">Variable</text>
<rect class="key" x="2413" y="745.6" width="66.7" height="69.2" fill="#7F7F7F"/>
<rect class="key" x="2413" y="817.2" width="66.7" height="69.2" fill="#00BD5C"/>
<rect class="key" x="2413" y="888.8" width="66.7" height="69.2" fill="#EF67EB"/>
<rect class="key" x="2413" y="960.4" width="66.7" height="69.2" fill="#00C1A7"/>
<rect class="key" x="2413" y="1032" width="66.7" height="69.2" fill="#B385FF"/>
<rect class="key" x="2413" y="1103.6" width="66.7" height="69.2" fill="#F8766D"/>
<rect class="key" x="2413" y="1175.2" width="66.7" height="69.2" fill="#00A6FF"/>
<rect class="key" x="2413" y="1246.8" width="66.7" height="69.2" fill="#00BADE"/>
<rect class="key" x="2413" y="1318.4" width="66.7" height="69.2" fill="#FF63B6"/>
<rect class="key" x="2413" y="1390" width="66.7" height="69.2" fill="#AEA200"/>
<rect class="key" x="2413" y="1461.6" width="66.7" height="69.2" fill="#64B200"/>
<text class="ll" x="2506" y="792.7">Stump/Leaf</text>
<text class="ll" x="2506" y="864.3">x1</text>
<text class="ll" x="2506" y="935.9">x10</text>
<text class="ll" x="2506" y="1007.5">x2</text>
<text class="ll" x="2506" y="1079.1">x3</text>
<text class="ll" x="2506" y="1150.7">x4</text>
<text class="ll" x="2506" y="1222.3">x5</text>
<text class="ll" x="2506" y="1293.9">x6</text>
<text class="ll" x="2506" y="1365.5">x7</text>
<text class="ll" x="2506" y="1437.1">x8</text>
<text class="ll" x="2506" y="1508.7">x9</text>
</g>
</svg>
